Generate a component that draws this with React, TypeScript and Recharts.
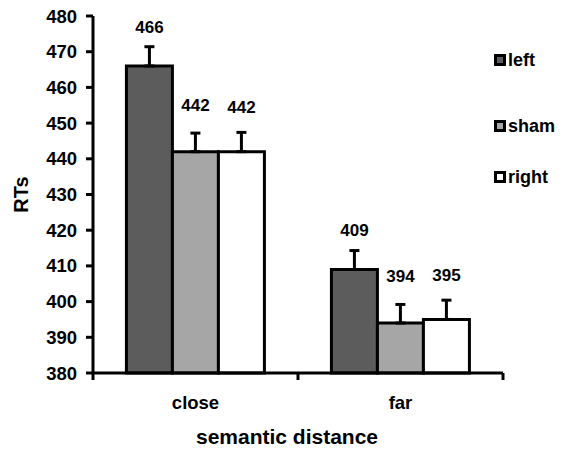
import React from 'react';
import { BarChart, Bar, XAxis, YAxis, ErrorBar, LabelList, Legend, Label } from 'recharts';

const categories = ['close', 'far'];
const leftValues = [466, 409];
const shamValues = [442, 394];
const rightValues = [442, 395];
const leftErrors = [5.4, 5.3];
const shamErrors = [5.2, 5.2];
const rightErrors = [5.4, 5.4];
const yTicks = [380, 390, 400, 410, 420, 430, 440, 450, 460, 470, 480];
const seriesNames = ['left', 'sham', 'right'];
const seriesColors = ['#5c5c5c', '#a6a6a6', '#ffffff'];

const data = categories.map((c, i) => ({
  cat: c,
  left: leftValues[i],
  sham: shamValues[i],
  right: rightValues[i],
  leftErr: [0, leftErrors[i]],
  shamErr: [0, shamErrors[i]],
  rightErr: [0, rightErrors[i]],
}));

const FONT = '"Liberation Sans", Arial, sans-serif';
const Y_MIN = 380;

const makeLabel = (errs: number[], gap: number) => (props: any) => {
  const { x, y, width, height, value, index } = props;
  const ppu = height / (value - Y_MIN);
  const ty = y - errs[index] * ppu - gap;
  return (
    <text x={x + width / 2} y={ty} dy="0.35em" textAnchor="middle" fontFamily={FONT} fontWeight="bold" fontSize={17} fill="#000">
      {value}
    </text>
  );
};

const XTick = (props: any) => {
  const { x, y, payload, index } = props;
  const half = payload && typeof payload.offset === 'number' && payload.offset > 0 ? payload.offset : 102.5;
  const last = index === categories.length - 1;
  return (
    <g>
      <line x1={x - half} y1={y} x2={x - half} y2={y + 7} stroke="#000" strokeWidth={3} />
      {last && <line x1={x + half} y1={y} x2={x + half} y2={y + 7} stroke="#000" strokeWidth={3} />}
      <text x={x} y={y + 30} dy="0.35em" textAnchor="middle" fontFamily={FONT} fontWeight="bold" fontSize={18.5} fill="#000">
        {payload.value}
      </text>
    </g>
  );
};

const legendGaps = [0, 46, 31];

const LegendContent = () => (
  <div style={{ fontFamily: FONT, fontWeight: 'bold', fontSize: 18, color: '#000' }}>
    {seriesNames.map((n, i) => (
      <div key={n} style={{ display: 'flex', alignItems: 'center', height: 20, marginTop: legendGaps[i] }}>
        <div style={{ width: 12, height: 12, boxSizing: 'border-box', border: '3px solid #000', background: seriesColors[i], marginRight: 2 }} />
        <span style={{ lineHeight: '20px' }}>{n}</span>
      </div>
    ))}
  </div>
);

export default function App() {
  return (
    <div style={{ position: 'absolute', left: 0, top: 0, width: 570, height: 452, background: '#fff' }}>
      <BarChart
        width={570}
        height={452}
        data={data}
        margin={{ top: 16, right: 67, left: 0, bottom: 39 }}
        barCategoryGap="16.3%"
        barGap={0}
      >
        <XAxis
          dataKey="cat"
          height={40}
          axisLine={{ stroke: '#000', strokeWidth: 3 }}
          tickLine={false}
          tickSize={0}
          tickMargin={0}
          tick={<XTick />}
          interval={0}
        >
          <Label
            content={(p: any) => {
              const vb = p.viewBox || { x: 93, y: 373, width: 410 };
              return (
                <text x={vb.x + vb.width / 2 - 11} y={vb.y + 64} dy="0.35em" textAnchor="middle" fontFamily={FONT} fontWeight="bold" fontSize={21} fill="#000">
                  semantic distance
                </text>
              );
            }}
          />
        </XAxis>
        <YAxis
          width={93}
          domain={[380, 480]}
          ticks={yTicks}
          interval={0}
          axisLine={{ stroke: '#000', strokeWidth: 3 }}
          tickLine={{ stroke: '#000', strokeWidth: 3 }}
          tickSize={7}
          tickMargin={9}
          tick={{ fontFamily: FONT, fontWeight: 'bold', fontSize: 18.5, fill: '#000' }}
        >
          <Label
            content={(p: any) => {
              const vb = p.viewBox || { x: 0, y: 16, width: 93, height: 357 };
              const cx = vb.x + 21;
              const cy = vb.y + vb.height / 2;
              return (
                <text x={cx} y={cy} dy="0.35em" textAnchor="middle" transform={`rotate(-90 ${cx} ${cy})`} fontFamily={FONT} fontWeight="bold" fontSize={20} fill="#000">
                  RTs
                </text>
              );
            }}
          />
        </YAxis>
        <Legend
          layout="vertical"
          align="center"
          verticalAlign="middle"
          wrapperStyle={{ left: 494, top: 50, width: 76 }}
          content={<LegendContent />}
        />
        <Bar dataKey="left" name="left" fill={seriesColors[0]} stroke="#000" strokeWidth={3} isAnimationActive={false}>
          <ErrorBar dataKey="leftErr" width={5} stroke="#000" strokeWidth={3} direction="y" />
          <LabelList dataKey="left" content={makeLabel(leftErrors, 20)} />
        </Bar>
        <Bar dataKey="sham" name="sham" fill={seriesColors[1]} stroke="#000" strokeWidth={3} isAnimationActive={false}>
          <ErrorBar dataKey="shamErr" width={5} stroke="#000" strokeWidth={3} direction="y" />
          <LabelList dataKey="sham" content={makeLabel(shamErrors, 28)} />
        </Bar>
        <Bar dataKey="right" name="right" fill={seriesColors[2]} stroke="#000" strokeWidth={3} isAnimationActive={false}>
          <ErrorBar dataKey="rightErr" width={5} stroke="#000" strokeWidth={3} direction="y" />
          <LabelList dataKey="right" content={makeLabel(rightErrors, 25)} />
        </Bar>
      </BarChart>
    </div>
  );
}
